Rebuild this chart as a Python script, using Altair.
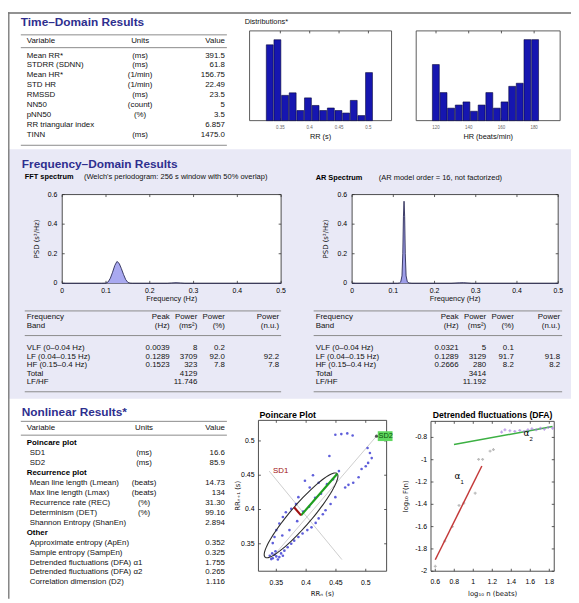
import altair as alt
import numpy as np
import pandas as pd

# ---------------- data ----------------
td_vars = ["Mean RR*", "STDRR (SDNN)", "Mean HR*", "STD HR", "RMSSD", "NN50", "pNN50",
           "RR triangular index", "TINN"]
td_units = ["(ms)", "(ms)", "(1/min)", "(1/min)", "(ms)", "(count)", "(%)", "", "(ms)"]
td_vals = ["391.5", "61.8", "156.75", "22.49", "23.5", "5", "3.5", "6.857", "1475.0"]

rr_bins = [0.332, 0.345, 0.358, 0.371, 0.384, 0.397, 0.410, 0.423, 0.436, 0.449, 0.462, 0.475, 0.488, 0.501]
rr_counts = [30, 32, 10, 11, 4, 9, 6, 4, 5, 4, 3, 8, 2, 19]
rr_ticks = [0.35, 0.4, 0.45, 0.5]
rr_tick_labels = ["0.35", "0.4", "0.45", "0.5"]

hr_bins = [119.9, 124.6, 129.2, 133.9, 138.6, 143.2, 147.9, 152.6, 157.2, 161.9, 166.6, 171.2, 175.9, 180.6]
hr_counts = [18, 9, 4, 5, 6, 3, 5, 9, 4, 6, 11, 12, 26, 26]
hr_ticks = [120, 140, 160, 180]
hr_tick_labels = ["120", "140", "160", "180"]

freq_ticks = [0, 0.1, 0.2, 0.3, 0.4, 0.5]
freq_tick_labels = ["0", "0.1", "0.2", "0.3", "0.4", "0.5"]
psd_ticks = [0, 0.2, 0.4, 0.6]
psd_tick_labels = ["0", "0.2", "0.4", "0.6"]

fft_f = [0.0, 0.09, 0.10, 0.105, 0.11, 0.115, 0.12, 0.125, 0.13, 0.135, 0.14, 0.145, 0.15, 0.155,
         0.16, 0.24, 0.25, 0.26, 0.27, 0.28, 0.5]
fft_psd = [0.0, 0.0, 0.001, 0.010, 0.035, 0.075, 0.120, 0.148, 0.135, 0.100, 0.060, 0.025, 0.006, 0.001,
           0.0, 0.0, 0.002, 0.004, 0.002, 0.0, 0.0]
ar_f = [0.0, 0.11, 0.115, 0.118, 0.121, 0.123, 0.1245, 0.126, 0.1275, 0.129, 0.131, 0.134, 0.138,
        0.145, 0.24, 0.26, 0.27, 0.29, 0.5]
ar_psd = [0.0, 0.0, 0.002, 0.010, 0.050, 0.200, 0.450, 0.555, 0.450, 0.200, 0.050, 0.010, 0.002,
          0.0, 0.0, 0.003, 0.004, 0.0, 0.0]

band_names = ["VLF (0–0.04 Hz)", "LF (0.04–0.15 Hz)", "HF (0.15–0.4 Hz)", "Total", "LF/HF"]
fft_peak = ["0.0039", "0.1289", "0.1523", "", ""]
fft_ms2 = ["8", "3709", "323", "4129", "11.746"]
fft_pct = ["0.2", "92.0", "7.8", "", ""]
fft_nu = ["", "92.2", "7.8", "", ""]
ar_peak = ["0.0321", "0.1289", "0.2666", "", ""]
ar_ms2 = ["5", "3129", "280", "3414", "11.192"]
ar_pct = ["0.1", "91.7", "8.2", "", ""]
ar_nu = ["", "91.8", "8.2", "", ""]

nl_vars = ["Poincare plot", "SD1", "SD2", "Recurrence plot", "Mean line length (Lmean)",
           "Max line length (Lmax)", "Recurrence rate (REC)", "Determinism (DET)",
           "Shannon Entropy (ShanEn)", "Other", "Approximate entropy (ApEn)", "Sample entropy (SampEn)",
           "Detrended fluctuations (DFA) α1", "Detrended fluctuations (DFA) α2", "Correlation dimension (D2)"]
nl_units = ["", "(ms)", "(ms)", "", "(beats)", "(beats)", "(%)", "(%)", "", "", "", "", "", "", ""]
nl_vals = ["", "16.6", "85.9", "", "14.73", "134", "31.30", "99.16", "2.894", "", "0.352", "0.325",
           "1.755", "0.265", "1.116"]
nl_group = [1, 0, 0, 1, 0, 0, 0, 0, 0, 1, 0, 0, 0, 0, 0]

mean_rr = 0.3915
sd1 = 0.0166
sd2 = 0.0859
pc_x = [0.449, 0.459, 0.469, 0.478, 0.439, 0.503, 0.507, 0.510, 0.504, 0.500, 0.493, 0.488, 0.479, 0.471, 0.4655,
        0.4115, 0.398, 0.421, 0.406, 0.387, 0.383, 0.375, 0.366, 0.361, 0.355, 0.350, 0.347, 0.344,
        0.360, 0.372, 0.385, 0.395, 0.405, 0.415, 0.425, 0.435, 0.445, 0.455,
        0.449, 0.441, 0.4325, 0.428, 0.421, 0.416, 0.409, 0.402, 0.394, 0.387, 0.380, 0.375, 0.369, 0.3635, 0.358,
        0.339, 0.344, 0.350, 0.355, 0.3415, 0.347, 0.3526, 0.361, 0.343, 0.3486]
pc_y = [0.509, 0.510, 0.511, 0.508, 0.478, 0.4897, 0.4825, 0.475, 0.468, 0.463, 0.459, 0.447, 0.439, 0.436, 0.432,
        0.450, 0.442, 0.439, 0.432, 0.418, 0.408, 0.401, 0.396, 0.389, 0.3795, 0.370, 0.360, 0.351,
        0.362, 0.370, 0.383, 0.397, 0.404, 0.417, 0.423, 0.437, 0.444, 0.456,
        0.418, 0.408, 0.399, 0.393, 0.387, 0.3805, 0.374, 0.370, 0.365, 0.360, 0.3546, 0.350, 0.345, 0.340, 0.336,
        0.3325, 0.329, 0.3316, 0.3306, 0.3277, 0.334, 0.327, 0.3325, 0.336, 0.339]
pc_ticks = [0.35, 0.4, 0.45, 0.5]
pc_tick_labels = ["0.35", "0.4", "0.45", "0.5"]
pc_diag_x = [0.341, 0.518]
pc_diag_y = [0.328, 0.507]
pc_perp_x = [0.338, 0.460]
pc_perp_y = [0.456, 0.327]

dfa_gray_x = [0.60, 0.70, 0.78, 0.85, 0.90, 1.02, 1.056, 1.098, 1.177, 1.212]
dfa_gray_y = [-1.956, -1.73, -1.60, -1.41, -1.39, -1.30, -0.997, -0.997, -0.923, -0.909]
dfa_a2_x = [1.298, 1.333, 1.385, 1.437, 1.489, 1.534, 1.575, 1.617, 1.662, 1.707, 1.748, 1.789, 1.834]
dfa_a2_y = [-0.752, -0.732, -0.740, -0.746, -0.737, -0.746, -0.732, -0.723, -0.732, -0.717, -0.726, -0.711, -0.717]
dfa_fit1_x = [0.60, 1.09]
dfa_fit1_y = [-1.897, -1.056]
dfa_fit2_x = [0.797, 1.834]
dfa_fit2_y = [-0.864, -0.702]
dfa_xticks = [0.6, 0.8, 1.0, 1.2, 1.4, 1.6, 1.8]
dfa_xtick_labels = ["0.6", "0.8", "1", "1.2", "1.4", "1.6", "1.8"]
dfa_yticks = [-2.0, -1.8, -1.6, -1.4, -1.2, -1.0, -0.8]
dfa_ytick_labels = ["-2", "-1.8", "-1.6", "-1.4", "-1.2", "-1", "-0.8"]

# ---------------- helpers ----------------
FONT = "Liberation Sans"
UFONT = "DejaVu Sans"
TITLE_C = "#2e2e8e"
TXT = "#111111"
TS = 8
OX, OY = 8, 8


def one():
    return pd.DataFrame({"k": [0]})


def text(s, x, y, size=TS, weight="normal", color=TXT, align="left", angle=0, font=FONT):
    kw = dict(align=align, baseline="middle", fontSize=size, fontWeight=weight, color=color, font=font)
    if angle:
        kw["angle"] = angle
    return alt.Chart(pd.DataFrame({"t": [s]})).mark_text(**kw).encode(
        x=alt.value(x - OX), y=alt.value(y - OY), text="t:N")


def hline(x1, x2, y, color="#8a8a8a", w=1.0):
    return alt.Chart(one()).mark_rule(color=color, strokeWidth=w).encode(
        x=alt.value(x1 - OX), x2=alt.value(x2 - OX), y=alt.value(y - OY))


def vline(x, y1, y2, color="#8a8a8a", w=1.0):
    return alt.Chart(one()).mark_rule(color=color, strokeWidth=w).encode(
        x=alt.value(x - OX), y=alt.value(y1 - OY), y2=alt.value(y2 - OY))


def box(x1, y1, x2, y2, fill="white", stroke=None, sw=1.0):
    kw = dict(fill=fill)
    if stroke:
        kw.update(stroke=stroke, strokeWidth=sw)
    return alt.Chart(one()).mark_rect(**kw).encode(
        x=alt.value(x1 - OX), x2=alt.value(x2 - OX), y=alt.value(y1 - OY), y2=alt.value(y2 - OY))


def column(values, x, y0, dy, align="left", size=TS, weight="normal", color=TXT, keep=None):
    n = len(values)
    df = pd.DataFrame({"row": list(range(n)), "v": values})
    if keep is not None:
        df = df[[bool(k) for k in keep]]
    df = df[df.v != ""]
    sc = alt.Scale(domain=[0, n - 1], range=[y0 - OY, y0 - OY + dy * (n - 1)], nice=False, zero=False)
    return alt.Chart(df).mark_text(align=align, baseline="middle", fontSize=size, fontWeight=weight,
                                   color=color, font=FONT).encode(
        x=alt.value(x - OX), y=alt.Y("row:Q", scale=sc, axis=None), text="v:N")


def xscale(d, p0, p1):
    return alt.Scale(domain=d, range=[p0 - OX, p1 - OX], nice=False, zero=False)


def yscale(d, top, bottom):
    return alt.Scale(domain=d, range=[bottom - OY, top - OY], nice=False, zero=False)


def tick_marks(xs, ys, xt, yt, L, T, R, B, tl=2.5):
    out = []
    if xt:
        base = alt.Chart(pd.DataFrame({"v": xt})).mark_rule(color="#333", strokeWidth=0.8)
        X = alt.X("v:Q", scale=xs, axis=None)
        out.append(base.encode(x=X, y=alt.value(B - OY), y2=alt.value(B - OY - tl)))
        out.append(base.encode(x=X, y=alt.value(T - OY), y2=alt.value(T - OY + tl)))
    if yt:
        base = alt.Chart(pd.DataFrame({"v": yt})).mark_rule(color="#333", strokeWidth=0.8)
        Y = alt.Y("v:Q", scale=ys, axis=None)
        out.append(base.encode(y=Y, x=alt.value(L - OX), x2=alt.value(L - OX + tl)))
        out.append(base.encode(y=Y, x=alt.value(R - OX), x2=alt.value(R - OX - tl)))
    return out


def xlabels(xs, vals, labs, y, size=7, color="#000"):
    df = pd.DataFrame({"v": vals, "l": labs})
    return alt.Chart(df).mark_text(align="center", baseline="middle", fontSize=size, color=color,
                                   font=FONT).encode(
        x=alt.X("v:Q", scale=xs, axis=None), y=alt.value(y - OY), text="l:N")


def ylabels(ys, vals, labs, x, size=7, color="#000"):
    df = pd.DataFrame({"v": vals, "l": labs})
    return alt.Chart(df).mark_text(align="right", baseline="middle", fontSize=size, color=color,
                                   font=FONT).encode(
        y=alt.Y("v:Q", scale=ys, axis=None), x=alt.value(x - OX), text="l:N")


layers = []

# ---------------- backgrounds / borders ----------------
layers.append(box(8, 147, 579, 400, fill="#e9e9f6"))
layers.append(hline(8, 579, 8.8, color="#6e6e6e", w=1.6))
layers.append(vline(8.8, 8, 603, color="#7a7a7a", w=1.4))

# ---------------- time-domain table ----------------
layers.append(text("Time–Domain Results", 21, 18, size=12, weight="bold", color=TITLE_C))
layers.append(hline(21, 230, 31))
layers.append(text("Variable", 27, 37))
layers.append(text("Units", 142, 37, align="center"))
layers.append(text("Value", 228, 37, align="right"))
layers.append(hline(21, 230, 44))
layers.append(column(td_vars, 27, 52, 10.1))
layers.append(column(td_units, 142, 52, 10.1, align="center"))
layers.append(column(td_vals, 228, 52, 10.1, align="right"))
layers.append(hline(21, 230, 143))

# ---------------- histograms ----------------
layers.append(text("Distributions*", 248, 18, size=7.5))


def histogram(bins, counts, ticks, tick_labels, xd, ymax, L, R, T, B, xlabel):
    xs = xscale(xd, L, R)
    ys = yscale([0, ymax], T, B)
    df = pd.DataFrame({"b": bins, "c": counts})
    parts = [box(L, T, R, B, fill="white", stroke="#4a4a4a", sw=0.9)]
    parts += tick_marks(xs, ys, ticks, [], L, T, R, B)
    parts.append(alt.Chart(df).mark_bar(size=7, fill="#1616b0", stroke="#06063a", strokeWidth=0.6).encode(
        x=alt.X("b:Q", scale=xs, axis=None), y=alt.Y("c:Q", scale=ys, axis=None)))
    parts.append(xlabels(xs, ticks, tick_labels, B + 7, size=4.5, color="#666"))
    layers.append(alt.layer(*parts))
    layers.append(text(xlabel, (L + R) / 2, B + 17, size=7.5, align="center"))


histogram(rr_bins, rr_counts, rr_ticks, rr_tick_labels, [0.306, 0.531], 35.5, 253, 397, 27, 118, "RR (s)")
histogram(hr_bins, hr_counts, hr_ticks, hr_tick_labels, [110.9, 192.9], 28.8, 422, 568, 27, 118,
          "HR (beats/min)")

# ---------------- frequency domain ----------------
layers.append(text("Frequency–Domain Results", 22, 162, size=12, weight="bold", color=TITLE_C))
layers.append(text("FFT spectrum", 25, 175, size=7.5, weight="bold", color="#000"))
layers.append(text("(Welch's periodogram: 256 s window with 50% overlap)", 85, 175, size=7.6))
layers.append(text("AR Spectrum", 320, 176, size=7.5, weight="bold", color="#000"))
layers.append(text("(AR model order = 16, not factorized)", 384, 176, size=7.6))


def spectrum(f, p, L, R, T, B, fill):
    xs = xscale([0, 0.5], L, R)
    ys = yscale([0, 0.6], T, B)
    df = pd.DataFrame({"f": f, "p": p})
    parts = [box(L, T, R, B, fill="white", stroke="#3a3a3a", sw=0.9)]
    parts += tick_marks(xs, ys, freq_ticks, psd_ticks, L, T, R, B)
    parts.append(alt.Chart(df).mark_area(color=fill, opacity=1, clip=True).encode(
        x=alt.X("f:Q", scale=xs, axis=None), y=alt.Y("p:Q", scale=ys, axis=None)))
    parts.append(alt.Chart(df).mark_line(color="#2a2a55", strokeWidth=0.9, clip=True).encode(
        x=alt.X("f:Q", scale=xs, axis=None), y=alt.Y("p:Q", scale=ys, axis=None)))
    parts.append(xlabels(xs, freq_ticks, freq_tick_labels, B + 8))
    parts.append(ylabels(ys, psd_ticks, psd_tick_labels, L - 5))
    layers.append(alt.layer(*parts))
    layers.append(text("PSD (s²/Hz)", L - 26, (T + B) / 2, size=7, align="center", angle=270, font=UFONT))
    layers.append(text("Frequency (Hz)", (L + R) / 2, B + 16, size=7.5, align="center"))


spectrum(fft_f, fft_psd, 63, 285, 193, 283, "#a9a9f0")
spectrum(ar_f, ar_psd, 357, 566, 193, 283, "#9d9de8")


def band_table(x0, xr, peak, ms2, pct, nu):
    layers.append(hline(x0 - 2, xr[3] + 2, 311))
    layers.append(text("Frequency", x0, 317))
    layers.append(text("Band", x0, 326))
    for xx, h1, h2 in zip(xr, ["Peak", "Power", "Power", "Power"], ["(Hz)", "(ms²)", "(%)", "(n.u.)"]):
        layers.append(text(h1, xx, 317, align="right"))
        layers.append(text(h2, xx, 326, align="right"))
    layers.append(hline(x0 - 2, xr[3] + 2, 336))
    y0, dy = 349, 8.5
    layers.append(column(band_names, x0, y0, dy))
    layers.append(column(peak, xr[0], y0, dy, align="right"))
    layers.append(column(ms2, xr[1], y0, dy, align="right"))
    layers.append(column(pct, xr[2], y0, dy, align="right"))
    layers.append(column(nu, xr[3], y0, dy, align="right"))
    layers.append(hline(x0 - 2, xr[3] + 2, 393))


band_table(27, [172, 200, 228, 283], fft_peak, fft_ms2, fft_pct, fft_nu)
band_table(320, [465, 493, 521, 568], ar_peak, ar_ms2, ar_pct, ar_nu)

# ---------------- nonlinear table ----------------
layers.append(text("Nonlinear Results*", 22, 414, size=12, weight="bold", color=TITLE_C))
layers.append(hline(21, 230, 423))
layers.append(text("Variable", 27, 430))
layers.append(text("Units", 146, 430, align="center"))
layers.append(text("Value", 228, 430, align="right"))
layers.append(hline(21, 230, 437))
ny0, ndy = 445, 10.1
layers.append(column(nl_vars, 27, ny0, ndy, weight="bold", color="#000", keep=nl_group))
layers.append(column(nl_vars, 30, ny0, ndy, keep=[1 - g for g in nl_group]))
layers.append(column(nl_units, 146, ny0, ndy, align="center"))
layers.append(column(nl_vals, 228, ny0, ndy, align="right"))

# ---------------- Poincare plot ----------------
PL, PR, PT, PB = 262, 392, 422, 575
pxs = xscale([0.32, 0.535], PL, PR)
pys = yscale([0.31, 0.53], PT, PB)
t = np.linspace(0, 2 * np.pi, 91)
c45 = np.cos(np.pi / 4)
ell = pd.DataFrame({
    "i": np.arange(len(t)),
    "x": mean_rr + sd2 * np.cos(t) * c45 - sd1 * np.sin(t) * c45,
    "y": mean_rr + sd2 * np.cos(t) * c45 + sd1 * np.sin(t) * c45,
})
PX = lambda f: alt.X(f, scale=pxs, axis=None)
PY = lambda f: alt.Y(f, scale=pys, axis=None)
p_parts = [box(PL, PT, PR, PB, fill="white", stroke="#3a3a3a", sw=0.9)]
p_parts += tick_marks(pxs, pys, pc_ticks, pc_ticks, PL, PT, PR, PB)
p_parts.append(alt.Chart(pd.DataFrame({"x": pc_diag_x, "y": pc_diag_y})).mark_line(
    color="#c8c8c8", strokeWidth=0.9).encode(x=PX("x:Q"), y=PY("y:Q")))
p_parts.append(alt.Chart(pd.DataFrame({"x": pc_perp_x, "y": pc_perp_y})).mark_line(
    color="#c8c8c8", strokeWidth=0.9).encode(x=PX("x:Q"), y=PY("y:Q")))
p_parts.append(alt.Chart(pd.DataFrame({"x": pc_x, "y": pc_y})).mark_circle(
    size=7, color="#4c4cd6", opacity=0.9).encode(x=PX("x:Q"), y=PY("y:Q")))
p_parts.append(alt.Chart(ell).mark_line(color="#2b2b2b", strokeWidth=1.1).encode(
    x=PX("x:Q"), y=PY("y:Q"), order="i:Q"))
p_parts.append(alt.Chart(pd.DataFrame({"x": [mean_rr, mean_rr + sd2 * c45],
                                       "y": [mean_rr, mean_rr + sd2 * c45]})).mark_line(
    color="#1e9e1e", strokeWidth=2.2).encode(x=PX("x:Q"), y=PY("y:Q")))
p_parts.append(alt.Chart(pd.DataFrame({"x": [mean_rr, mean_rr - sd1 * c45],
                                       "y": [mean_rr, mean_rr + sd1 * c45]})).mark_line(
    color="#a01010", strokeWidth=2.2).encode(x=PX("x:Q"), y=PY("y:Q")))
p_parts.append(xlabels(pxs, pc_ticks, pc_tick_labels, PB + 12))
p_parts.append(ylabels(pys, pc_ticks, pc_tick_labels, PL - 4))
p_parts.append(alt.Chart(pd.DataFrame({"x": [pc_perp_x[0]], "y": [pc_perp_y[0]], "t": ["SD1"]})).mark_text(
    align="left", baseline="middle", dx=4, fontSize=8, color="#a01010", font=FONT).encode(
    x=PX("x:Q"), y=PY("y:Q"), text="t:N"))
layers.append(alt.layer(*p_parts))
layers.append(box(383, 433, 398, 443, fill="#5fd85f"))
p_lab = [alt.Chart(pd.DataFrame({"x": [pc_diag_x[1]], "y": [pc_diag_y[1]]})).mark_circle(
    size=10, color="#111").encode(x=PX("x:Q"), y=PY("y:Q")),
    alt.Chart(pd.DataFrame({"x": [pc_diag_x[1]], "y": [pc_diag_y[1]], "t": ["SD2"]})).mark_text(
    align="left", baseline="middle", dx=2, fontSize=7.5, color="#0b500b", font=FONT).encode(
    x=PX("x:Q"), y=PY("y:Q"), text="t:N")]
layers.append(alt.layer(*p_lab))
layers.append(text("Poincare Plot", 263, 417, size=9, weight="bold", color="#000"))
layers.append(text("RRₙ (s)", (PL + PR) / 2, 598, size=7, align="center", font=UFONT))
layers.append(text("RRₙ₊₁ (s)", 241, (PT + PB) / 2, size=7, align="center", angle=270, font=UFONT))

# ---------------- DFA plot ----------------
DL, DR, DT, DB = 437, 562, 423, 575
dxs = xscale([0.555, 1.852], DL, DR)
dys = yscale([-2.0, -0.656], DT, DB)
DX = lambda f: alt.X(f, scale=dxs, axis=None)
DY = lambda f: alt.Y(f, scale=dys, axis=None)
d_parts = [box(DL, DT, DR, DB, fill="white", stroke="#3a3a3a", sw=0.9)]
d_parts += tick_marks(dxs, dys, dfa_xticks, dfa_yticks, DL, DT, DR, DB)
d_parts.append(alt.Chart(pd.DataFrame({"x": dfa_gray_x, "y": dfa_gray_y})).mark_point(
    shape="cross", filled=True, size=9, color="#a0a0a0").encode(x=DX("x:Q"), y=DY("y:Q")))
d_parts.append(alt.Chart(pd.DataFrame({"x": dfa_fit1_x, "y": dfa_fit1_y})).mark_line(
    color="#c43a3a", strokeWidth=1.5).encode(x=DX("x:Q"), y=DY("y:Q")))
d_parts.append(alt.Chart(pd.DataFrame({"x": dfa_fit2_x, "y": dfa_fit2_y})).mark_line(
    color="#3cb043", strokeWidth=1.5).encode(x=DX("x:Q"), y=DY("y:Q")))
d_parts.append(alt.Chart(pd.DataFrame({"x": dfa_a2_x, "y": dfa_a2_y})).mark_point(
    shape="cross", filled=True, size=9, color="#a57be0").encode(x=DX("x:Q"), y=DY("y:Q")))
d_parts.append(xlabels(dxs, dfa_xticks, dfa_xtick_labels, DB + 11))
d_parts.append(ylabels(dys, dfa_yticks, dfa_ytick_labels, DL - 4))
ann = pd.DataFrame({"x": [0.832, 1.558], "y": [-1.145, -0.761], "s": ["1", "2"]})
d_parts.append(alt.Chart(ann).mark_text(text="α", fontSize=9, color="#000", font=UFONT).encode(
    x=DX("x:Q"), y=DY("y:Q")))
d_parts.append(alt.Chart(ann).mark_text(fontSize=6, color="#000", font=FONT, dx=5, dy=6).encode(
    x=DX("x:Q"), y=DY("y:Q"), text="s:N"))
layers.append(alt.layer(*d_parts))
layers.append(text("Detrended fluctuations (DFA)", (DL + DR) / 2, 417, size=8.8, weight="bold",
                   color="#000", align="center"))
layers.append(text("log₁₀ n (beats)", (DL + DR) / 2, 598, size=7, align="center", font=UFONT))
layers.append(text("log₁₀ F(n)", 412, (DT + DB) / 2, size=7, align="center", angle=270, font=UFONT))

chart = alt.layer(*layers).resolve_scale(x="independent", y="independent").properties(
    width=571, height=595, padding=0, background="white",
    autosize=alt.AutoSizeParams(type="none"),
).configure_view(stroke=None)

chart.save("out.html", embed_options={"renderer": "svg", "actions": False})
